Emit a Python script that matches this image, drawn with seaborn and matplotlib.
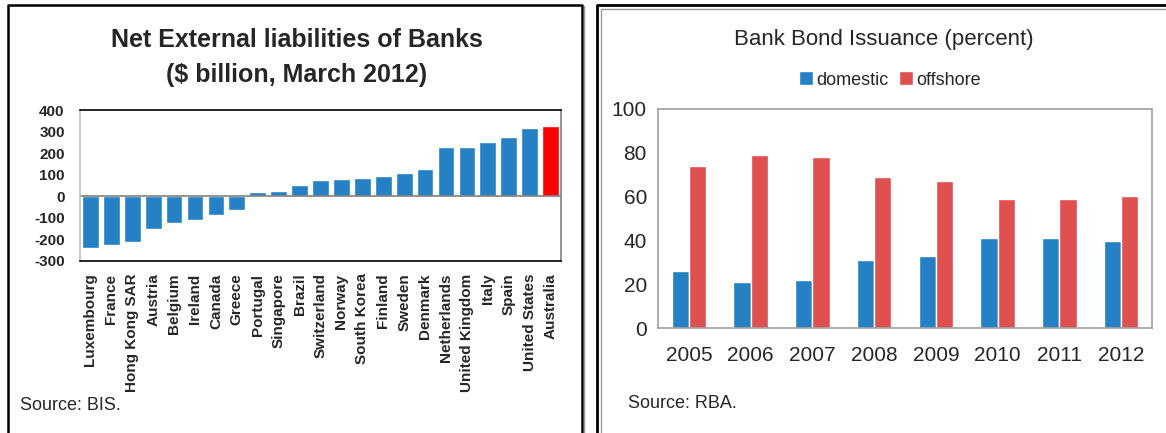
import pandas as pd
import matplotlib.pyplot as plt
import seaborn as sns
from matplotlib.lines import Line2D

# data
countries = ['Luxembourg', 'France', 'Hong Kong SAR', 'Austria', 'Belgium', 'Ireland',
             'Canada', 'Greece', 'Portugal', 'Singapore', 'Brazil', 'Switzerland',
             'Norway', 'South Korea', 'Finland', 'Sweden', 'Denmark', 'Netherlands',
             'United Kingdom', 'Italy', 'Spain', 'United States', 'Australia']
liabilities = [-241, -226, -212, -152, -125, -111, -88, -65, 22, 26, 54, 77,
               82, 86, 95, 109, 128, 229, 229, 252, 275, 317, 326]
left_ticks = [400, 300, 200, 100, 0, -100, -200, -300]

years = ['2005', '2006', '2007', '2008', '2009', '2010', '2011', '2012']
domestic = [26, 21, 22, 31, 33, 41, 41, 39.5]
offshore = [74, 79, 78, 69, 67, 59, 59, 60.5]
right_ticks = [0, 20, 40, 60, 80, 100]

blue = '#2581C3'
red_left = '#FF0000'
red_right = '#DF5050'

sns.set_theme(style='white')
plt.rcParams['font.family'] = ['Liberation Sans', 'DejaVu Sans']

fig = plt.figure(figsize=(11.66, 4.33), dpi=100)

# panel borders
def fline(x, y, color, lw):
    fig.add_artist(Line2D([v / 1166 for v in x], [1 - v / 433 for v in y],
                          color=color, lw=lw, transform=fig.transFigure))

fline([8, 8, 582, 582], [433, 5, 5, 433], 'black', 1.8)
fline([584, 584], [6, 433], '#999999', 1.0)
fline([597, 597, 1166], [433, 5, 5], 'black', 2.0)
fline([601, 601, 1166], [433, 9, 9], '#999999', 1.0)

# ---- left chart
ax1 = fig.add_axes([80 / 1166, 1 - 261 / 433, 481 / 1166, 151 / 433])
colors = [blue] * (len(countries) - 1) + [red_left]
df1 = pd.DataFrame({'country': countries, 'value': liabilities})
sns.barplot(data=df1, x='country', y='value', hue='country', palette=colors,
            legend=False, width=0.8, saturation=1, ax=ax1)
ax1.set_xlim(-0.5, len(countries) - 0.5)
ax1.set_ylim(-300, 400)
ax1.set_yticks(left_ticks)
ax1.set_yticklabels([str(t) for t in left_ticks], fontsize=11, fontweight='bold')
ax1.set_xticks(range(len(countries)))
ax1.set_xticklabels(countries, rotation=90, fontsize=11, fontweight='bold')
ax1.tick_params(axis='y', length=0, pad=11)
ax1.tick_params(axis='x', length=0, pad=9)
ax1.axhline(0, color='#808080', lw=1.2)
ax1.set_xlabel('')
ax1.set_ylabel('')
ax1.spines['top'].set_color('black')
ax1.spines['bottom'].set_color('black')
ax1.spines['right'].set_color('#808080')
ax1.spines['left'].set_color('#C0C0C0')
for s in ax1.spines.values():
    s.set_linewidth(1.2)
fig.text(297 / 1166, 1 - 40 / 433, 'Net External liabilities of Banks',
         ha='center', va='center', fontsize=18, fontweight='bold')
fig.text(297 / 1166, 1 - 75 / 433, '($ billion, March 2012)',
         ha='center', va='center', fontsize=18, fontweight='bold')
fig.text(20 / 1166, 1 - 405 / 433, 'Source: BIS.', ha='left', va='center', fontsize=13)

# ---- right chart
ax2 = fig.add_axes([658 / 1166, 1 - 328 / 433, 494 / 1166, 219 / 433])
df2 = pd.DataFrame({'year': years * 2,
                    'type': ['domestic'] * len(years) + ['offshore'] * len(years),
                    'value': domestic + offshore})
sns.barplot(data=df2, x='year', y='value', hue='type', palette=[blue, red_right],
            width=0.56, saturation=1, ax=ax2)
ax2.set_xlim(-0.5, len(years) - 0.5)
ax2.set_ylim(0, 100)
ax2.set_yticks(right_ticks)
ax2.set_yticklabels([str(t) for t in right_ticks], fontsize=15)
ax2.tick_params(axis='y', length=0, pad=8)
ax2.tick_params(axis='x', length=0, pad=13, labelsize=15)
ax2.set_xlabel('')
ax2.set_ylabel('')
for s in ax2.spines.values():
    s.set_color('#A0A0A0')
    s.set_linewidth(1.2)
leg = ax2.legend(loc='center', bbox_to_anchor=(890 / 1166, 1 - 80 / 433),
                 bbox_transform=fig.transFigure, ncol=2, frameon=False,
                 fontsize=13, handlelength=0.75, handleheight=0.8,
                 handletextpad=0.2, columnspacing=0.6)
fig.text(884 / 1166, 1 - 40 / 433, 'Bank Bond Issuance (percent)',
         ha='center', va='center', fontsize=16)
fig.text(628 / 1166, 1 - 403 / 433, 'Source: RBA.', ha='left', va='center', fontsize=13)

fig.savefig('out.png', dpi=100)
